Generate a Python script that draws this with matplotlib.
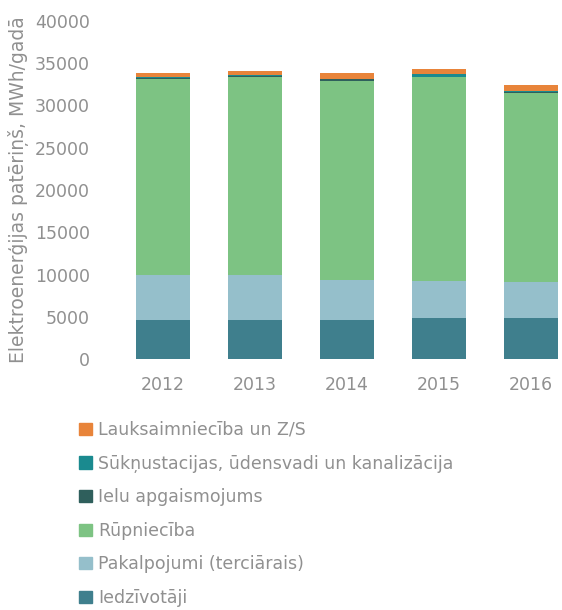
import matplotlib
matplotlib.use("Agg")
import matplotlib.pyplot as plt
import numpy as np
from matplotlib.patches import Patch

plt.rcParams['font.family'] = ['DejaVu Sans']

years = ['2012', '2013', '2014', '2015', '2016']
iedzivotaji = [4600, 4600, 4600, 4800, 4800]
pakalpojumi = [5350, 5350, 4750, 4450, 4350]
rupnieciba = [23150, 23420, 23540, 24090, 22320]
ielu = [150, 120, 200, 80, 150]
suknu = [100, 100, 100, 300, 120]
lauks = [520, 550, 630, 620, 670]

series = [
    ('Iedzīvotāji', iedzivotaji, '#3f7f8d'),
    ('Pakalpojumi (terciārais)', pakalpojumi, '#95bfcb'),
    ('Rūpniecība', rupnieciba, '#7dc383'),
    ('Ielu apgaismojums', ielu, '#2f5f5c'),
    ('Sūkņustacijas, ūdensvadi un kanalizācija', suknu, '#1a8a8f'),
    ('Lauksaimniecība un Z/S', lauks, '#e8843a'),
]

grey = '#909090'
fig = plt.figure(figsize=(5.62, 6.10), dpi=100)
ax = fig.add_axes([115 / 562, 251 / 610, 447 / 562, 338 / 610])

x = np.arange(len(years))
bottom = np.zeros(len(years))
for name, vals, col in series:
    ax.bar(x, vals, width=0.59, bottom=bottom, color=col, label=name)
    bottom += np.array(vals)

ax.set_xlim(-0.52, 4.34)
ax.set_ylim(0, 40000)
ax.set_yticks(np.arange(0, 40001, 5000))
ax.set_xticks(x)
ax.set_xticklabels(years)
for s in ax.spines.values():
    s.set_visible(False)
ax.tick_params(length=0, colors=grey, labelsize=12.5)
ax.tick_params(axis='x', pad=12)
ax.tick_params(axis='y', pad=18)
ax.set_ylabel('Elektroenerģijas patēriņš, MWh/gadā', color=grey, fontsize=13.5, labelpad=4)

handles = [Patch(color=c) for _, _, c in series][::-1]
labels = [n for n, _, _ in series][::-1]
fig.legend(handles, labels, loc='upper left', bbox_to_anchor=(72 / 562, 1 - 414 / 610),
           frameon=False, fontsize=12.5, labelcolor=grey, labelspacing=0.9,
           handlelength=0.75, handleheight=0.7, handletextpad=0.35, borderaxespad=0)

fig.savefig('out.png', dpi=100)
